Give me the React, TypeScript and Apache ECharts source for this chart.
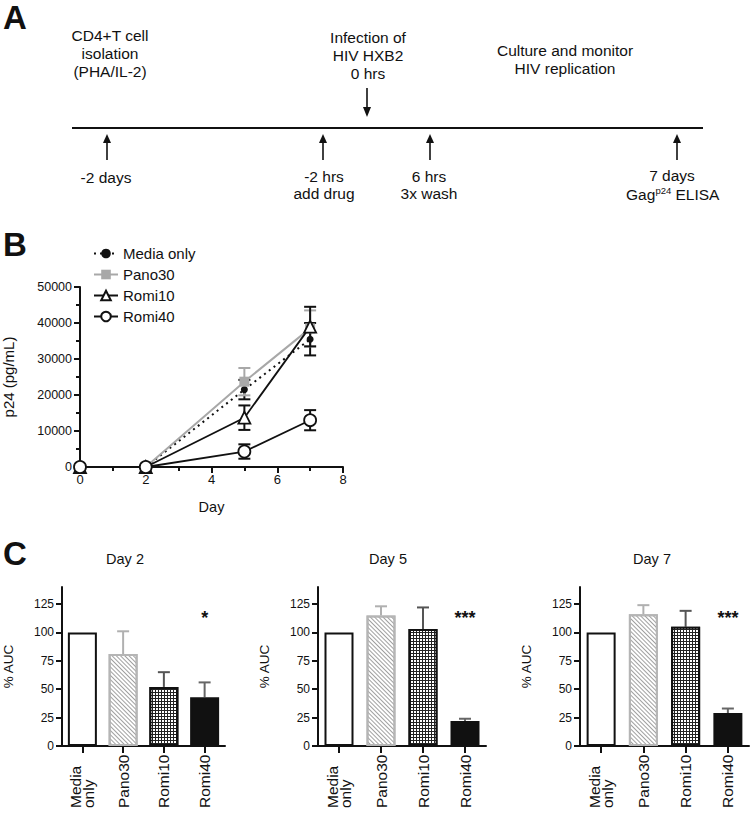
import React, { useEffect, useRef } from 'react';
import * as echarts from 'echarts';

const FONT = '"Liberation Sans", Arial, Helvetica, sans-serif';
const INK = '#111111';

// ---------- Panel A: timeline texts ----------
const isolationText = ['CD4+T cell', 'isolation', '(PHA/IL-2)'];
const infectionText = ['Infection of', 'HIV HXB2', '0 hrs'];
const cultureText = ['Culture and monitor', 'HIV replication'];
const minus2DaysText = ['-2 days'];
const addDrugText = ['-2 hrs', 'add drug'];
const washText = ['6 hrs', '3x wash'];
const elisaDayText = '7 days';

// ---------- Panel B: p24 time course ----------
const days = [0, 2, 5, 7];
const seriesNames = ['Media only', 'Pano30', 'Romi10', 'Romi40'];
const mediaOnly = [0, 0, 21500, 35500];
const mediaOnlyErr = [0, 0, 2700, 4500];
const pano30 = [0, 0, 23700, 38500];
const pano30Err = [0, 0, 3800, 5000];
const romi10 = [0, 0, 13700, 39000];
const romi10Err = [0, 0, 3400, 5500];
const romi40 = [0, 0, 4300, 13000];
const romi40Err = [0, 0, 2000, 2800];
const dayTicks = [0, 2, 4, 6, 8];
const p24Ticks = [0, 10000, 20000, 30000, 40000, 50000];

// ---------- Panel C: %AUC bars ----------
const barCategories = ['Media\nonly', 'Pano30', 'Romi10', 'Romi40'];
const barTitles = ['Day 2', 'Day 5', 'Day 7'];
const day2Auc = [100, 81, 52, 43];
const day2Err = [0, 20, 13, 13];
const day5Auc = [100, 115, 103, 22];
const day5Err = [0, 8, 19, 2];
const day7Auc = [100, 116, 105, 29];
const day7Err = [0, 8, 14, 4];
const aucTicks = [0, 25, 50, 75, 100, 125];
const significance = ['*', '***', '***'];
const sigCategory = 3;

export default function App() {
  const ref = useRef<HTMLDivElement>(null);

  useEffect(() => {
    document.body.style.margin = '0';
    const chart = echarts.init(ref.current!, null, { renderer: 'svg' });

    const txt = (x: number, y: number, text: string, size = 15.5, align = 'center', extra: any = {}) => ({
      type: 'text',
      x,
      y,
      silent: true,
      style: {
        text,
        fontSize: size,
        fontFamily: FONT,
        fill: INK,
        align,
        verticalAlign: 'middle',
        ...extra,
      },
    });
    const stack = (x: number, y0: number, lines: string[], gap = 18) =>
      lines.map((t, i) => txt(x, y0 + i * gap, t));

    const upArrow = (x: number) => [
      { type: 'line', silent: true, shape: { x1: x, y1: 160, x2: x, y2: 141 }, style: { stroke: INK, lineWidth: 1.6 } },
      { type: 'polygon', silent: true, shape: { points: [[x - 4, 143], [x + 4, 143], [x, 134]] }, style: { fill: INK } },
    ];
    const downArrow = (x: number) => [
      { type: 'line', silent: true, shape: { x1: x, y1: 88, x2: x, y2: 109 }, style: { stroke: INK, lineWidth: 1.6 } },
      { type: 'polygon', silent: true, shape: { points: [[x - 4, 107], [x + 4, 107], [x, 117]] }, style: { fill: INK } },
    ];

    const panelLabel = (y: number, t: string) => txt(3, y, t, 33, 'left', { fontWeight: 'bold' });

    const graphic: any[] = [
      panelLabel(17, 'A'),
      panelLabel(244, 'B'),
      panelLabel(553, 'C'),
      { type: 'line', silent: true, shape: { x1: 72, y1: 128, x2: 703, y2: 128 }, style: { stroke: INK, lineWidth: 2 } },
      ...upArrow(107),
      ...upArrow(323),
      ...upArrow(430),
      ...upArrow(677),
      ...downArrow(367),
      ...stack(110, 35, isolationText),
      ...stack(368, 37, infectionText),
      ...stack(565, 50, cultureText),
      ...stack(106, 177, minus2DaysText),
      ...stack(324, 176, addDrugText, 17.5),
      ...stack(429, 176, washText, 17.5),
      txt(672, 175, elisaDayText),
      txt(626, 194.5, 'Gag', 15.5, 'left'),
      txt(655.5, 190.5, 'p24', 9.5, 'left'),
      txt(675.5, 194.5, 'ELISA', 15.5, 'left'),
    ];

    // ---------- line chart ----------
    const lineVals = [mediaOnly, pano30, romi10, romi40];
    const lineErrs = [mediaOnlyErr, pano30Err, romi10Err, romi40Err];
    const lineColors = [INK, '#a8a8a8', INK, INK];
    const lineStyles: any[] = [
      { color: INK, width: 2, type: [2, 4] },
      { color: '#a8a8a8', width: 2 },
      { color: INK, width: 1.8 },
      { color: INK, width: 1.8 },
    ];
    const symbols = ['circle', 'rect', 'triangle', 'circle'];
    const symbolSizes = [7, 10, 12, 12];
    const symbolStyles: any[] = [
      { color: INK, borderColor: INK, borderWidth: 0 },
      { color: '#a8a8a8', borderColor: '#a8a8a8', borderWidth: 0 },
      { color: '#fff', borderColor: INK, borderWidth: 1.8 },
      { color: '#fff', borderColor: INK, borderWidth: 1.8 },
    ];

    const lineSeries: any[] = seriesNames.map((name, k) => ({
      name,
      type: 'line',
      xAxisIndex: 0,
      yAxisIndex: 0,
      z: 3 + k,
      data: days.map((d, i) => [d, lineVals[k][i]]),
      symbol: symbols[k],
      symbolSize: symbolSizes[k],
      showAllSymbol: true,
      lineStyle: lineStyles[k],
      itemStyle: symbolStyles[k],
      emphasis: { disabled: true },
    }));

    const lineErrSeries: any[] = seriesNames.map((name, k) => ({
      type: 'custom',
      xAxisIndex: 0,
      yAxisIndex: 0,
      z: 2,
      silent: true,
      data: days.map((d, i) => [d, lineVals[k][i], lineErrs[k][i]]),
      renderItem: (_p: any, api: any) => {
        const x = api.value(0);
        const v = api.value(1);
        const e = api.value(2);
        if (!e) return { type: 'group', children: [] };
        const hi = api.coord([x, v + e]);
        const lo = api.coord([x, v - e]);
        const w = 6;
        const st = { stroke: lineColors[k], lineWidth: 2 };
        return {
          type: 'group',
          children: [
            { type: 'line', shape: { x1: hi[0], y1: hi[1], x2: lo[0], y2: lo[1] }, style: st },
            { type: 'line', shape: { x1: hi[0] - w, y1: hi[1], x2: hi[0] + w, y2: hi[1] }, style: st },
            { type: 'line', shape: { x1: lo[0] - w, y1: lo[1], x2: lo[0] + w, y2: lo[1] }, style: st },
          ],
        };
      },
    }));

    // ---------- bar charts ----------
    const barLefts = [55, 318, 580];
    const barWidths = [170, 168, 169];
    const barVals = [day2Auc, day5Auc, day7Auc];
    const barErrs = [day2Err, day5Err, day7Err];
    const errColors = [INK, '#b0b0b0', '#555555', '#666666'];
    const barItemStyles: any[] = [
      { color: '#ffffff', borderColor: INK, borderWidth: 2 },
      {
        color: '#ffffff',
        borderColor: '#b5b5b5',
        borderWidth: 2,
        decal: {
          symbol: 'rect',
          symbolSize: 1,
          color: '#a0a0a0',
          dashArrayX: [1, 0],
          dashArrayY: [1, 2],
          rotation: Math.PI / 4,
        },
      },
      {
        color: '#222222',
        borderColor: INK,
        borderWidth: 2,
        decal: {
          symbol: 'rect',
          symbolSize: 1,
          color: '#ffffff',
          dashArrayX: [2, 1],
          dashArrayY: [2, 1],
          rotation: 0,
        },
      },
      { color: '#111111', borderColor: INK, borderWidth: 2 },
    ];

    const axisLine = { show: true, lineStyle: { color: INK, width: 2 } };
    const grids: any[] = [{ left: 77, top: 287, width: 266, height: 180 }];
    const xAxes: any[] = [
      {
        type: 'value',
        gridIndex: 0,
        min: 0,
        max: 8,
        interval: 2,
        name: 'Day',
        nameLocation: 'middle',
        nameGap: 32,
        nameTextStyle: { fontSize: 14.5, fontFamily: FONT, color: INK },
        axisLine,
        axisTick: { show: true, length: 6, lineStyle: { width: 2, color: INK } },
        minorTick: { show: true, splitNumber: 2, length: 4, lineStyle: { width: 2, color: INK } },
        splitLine: { show: false },
        axisLabel: { fontSize: 13, fontFamily: FONT, color: INK, margin: 6, customValues: dayTicks },
      },
    ];
    const yAxes: any[] = [
      {
        type: 'value',
        gridIndex: 0,
        min: 0,
        max: 50000,
        interval: 10000,
        name: 'p24 (pg/mL)',
        nameLocation: 'middle',
        nameGap: 64,
        nameRotate: 90,
        nameTextStyle: { fontSize: 15, fontFamily: FONT, color: INK },
        axisLine,
        axisTick: { show: true, length: 6, lineStyle: { width: 2, color: INK } },
        minorTick: { show: true, splitNumber: 2, length: 4, lineStyle: { width: 2, color: INK } },
        splitLine: { show: false },
        axisLabel: {
          fontSize: 12.5,
          fontFamily: FONT,
          color: INK,
          margin: 8,
          customValues: p24Ticks,
          formatter: (v: number) => String(v),
        },
      },
    ];

    const barSeries: any[] = [];
    const titles: any[] = [];
    const titleCenters = [125, 388, 652];

    barLefts.forEach((left, g) => {
      const gi = g + 1;
      grids.push({ left, top: 587, width: barWidths[g], height: 159 });
      xAxes.push({
        type: 'category',
        gridIndex: gi,
        data: barCategories,
        boundaryGap: true,
        axisLine,
        axisTick: { show: true, alignWithLabel: true, length: 7, lineStyle: { width: 2, color: INK } },
        axisLabel: {
          interval: 0,
          rotate: 90,
          align: 'left',
          verticalAlign: 'middle',
          margin: 62,
          fontSize: 15.5,
          lineHeight: 13,
          fontFamily: FONT,
          color: INK,
        },
      });
      yAxes.push({
        type: 'value',
        gridIndex: gi,
        min: 0,
        max: 140,
        name: '% AUC',
        nameLocation: 'middle',
        nameGap: 47,
        nameRotate: 90,
        nameTextStyle: { fontSize: 13.5, fontFamily: FONT, color: INK },
        axisLine,
        axisTick: { show: true, length: 6, lineStyle: { width: 2, color: INK }, customValues: aucTicks },
        splitLine: { show: false },
        axisLabel: { fontSize: 12, fontFamily: FONT, color: INK, margin: 8, customValues: aucTicks },
      });
      barSeries.push({
        type: 'bar',
        xAxisIndex: gi,
        yAxisIndex: gi,
        barWidth: 29,
        z: 2,
        silent: true,
        data: barVals[g].map((v, i) => ({ value: v, itemStyle: barItemStyles[i] })),
      });
      barSeries.push({
        type: 'custom',
        xAxisIndex: gi,
        yAxisIndex: gi,
        z: 1,
        silent: true,
        data: barVals[g].map((v, i) => [i, v, barErrs[g][i]]),
        renderItem: (_p: any, api: any) => {
          const i = api.value(0);
          const v = api.value(1);
          const e = api.value(2);
          if (!e) return { type: 'group', children: [] };
          const hi = api.coord([i, v + e]);
          const lo = api.coord([i, v]);
          const st = { stroke: errColors[i], lineWidth: 2 };
          return {
            type: 'group',
            children: [
              { type: 'line', shape: { x1: hi[0], y1: hi[1], x2: lo[0], y2: lo[1] }, style: st },
              { type: 'line', shape: { x1: hi[0] - 6, y1: hi[1], x2: hi[0] + 6, y2: hi[1] }, style: st },
            ],
          };
        },
      });
      barSeries.push({
        type: 'custom',
        xAxisIndex: gi,
        yAxisIndex: gi,
        z: 4,
        silent: true,
        data: [[sigCategory, 113]],
        renderItem: (_p: any, api: any) => {
          const pt = api.coord([api.value(0), api.value(1)]);
          return {
            type: 'text',
            x: pt[0],
            y: pt[1],
            style: {
              text: significance[g],
              fontSize: 18,
              fontWeight: 'bold',
              fontFamily: FONT,
              fill: INK,
              align: 'center',
              verticalAlign: 'middle',
            },
          };
        },
      });
      titles.push({
        text: barTitles[g],
        left: titleCenters[g],
        top: 551,
        padding: 0,
        textAlign: 'center',
        textStyle: { fontSize: 14.5, fontWeight: 'normal', fontFamily: FONT, color: INK },
      });
    });

    chart.setOption({
      animation: false,
      backgroundColor: '#ffffff',
      textStyle: { fontFamily: FONT },
      title: titles,
      legend: {
        data: seriesNames,
        orient: 'vertical',
        left: 93,
        top: 246,
        padding: 0,
        itemWidth: 24,
        itemHeight: 12,
        itemGap: 6,
        selectedMode: false,
        textStyle: { fontSize: 15, fontFamily: FONT, color: INK },
      },
      grid: grids,
      xAxis: xAxes,
      yAxis: yAxes,
      graphic,
      series: [...lineErrSeries, ...lineSeries, ...barSeries],
    });

    return () => chart.dispose();
  }, []);

  return <div ref={ref} style={{ width: 750, height: 814 }} />;
}
